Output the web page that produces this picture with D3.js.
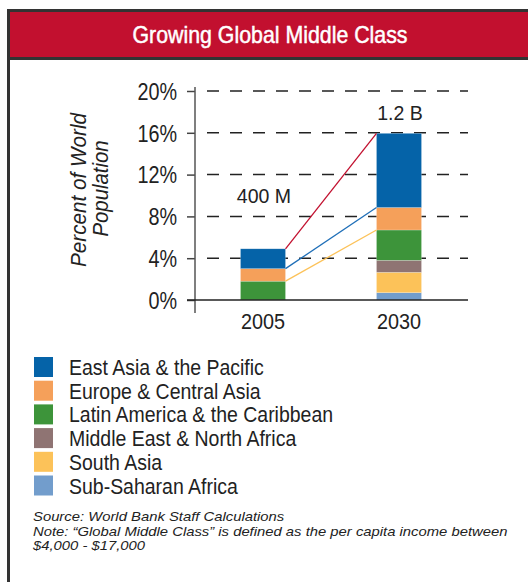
<!DOCTYPE html>
<html>
<head>
<meta charset="utf-8">
<script src="https://cdn.jsdelivr.net/npm/d3@7"></script>
<style>
  body { margin: 0; background: #fff; }
  text { font-family: "Liberation Sans", Arial, sans-serif; fill: #222; }
</style>
</head>
<body>
<script>
// chart data
const years = ["2005", "2030"];
const regions = ["Sub-Saharan Africa", "South Asia", "Middle East & North Africa",
  "Latin America & the Caribbean", "Europe & Central Asia", "East Asia & the Pacific"];
const colors = ["#729dcc", "#fcc259", "#8f7473", "#3d943a", "#f5a05a", "#0563a8"];
const values2005 = [0, 0, 0, 1.8, 1.2, 1.9];
const values2030 = [0.7, 1.95, 1.15, 2.9, 2.15, 7.1];
const yTicks = [0, 4, 8, 12, 16, 20];
const totals = ["400 M", "1.2 B"];
const legendOrder = regions.slice().reverse();

const W = 528, H = 582;
const svg = d3.select("body").append("svg")
  .attr("width", W)
  .attr("height", H);

// squeeze text horizontally, the original uses a condensed face
function condense(sel, f) {
  sel.each(function() {
    const w = this.getComputedTextLength();
    d3.select(this).attr("textLength", w * f).attr("lengthAdjust", "spacingAndGlyphs");
  });
}

// frame + title band
svg.append("line")
  .attr("x1", 8.5).attr("x2", 8.5).attr("y1", 9).attr("y2", H)
  .attr("stroke", "#333").attr("stroke-width", 3);
svg.append("rect")
  .attr("x", 7).attr("y", 9).attr("width", W - 7).attr("height", 51)
  .attr("fill", "#333");
svg.append("rect")
  .attr("x", 10).attr("y", 12).attr("width", W - 10).attr("height", 45)
  .attr("fill", "#c2102f");
svg.append("text")
  .attr("x", 270).attr("y", 43)
  .attr("text-anchor", "middle")
  .attr("textLength", 275).attr("lengthAdjust", "spacingAndGlyphs")
  .style("font-size", "24px")
  .style("fill", "#fff")
  .style("stroke", "#fff").style("stroke-width", 0.5)
  .text("Growing Global Middle Class");

// scales
const y = d3.scaleLinear().domain([0, 20]).range([300, 91]);
const x = d3.scaleBand().domain(years).range([195, 467])
  .paddingInner(0.669).paddingOuter(0.3345);

// gridlines
svg.append("g").selectAll("line")
  .data(yTicks.filter(d => d > 0))
  .enter().append("line")
  .attr("x1", 207).attr("x2", 468)
  .attr("y1", d => y(d)).attr("y2", d => y(d))
  .attr("stroke", "#222").attr("stroke-width", 1.5)
  .attr("stroke-dasharray", "12,11");

// y axis
const yAxis = d3.axisLeft(y).tickValues(yTicks).tickFormat(d => d + "%").tickSize(8).tickPadding(10);
const gy = svg.append("g").attr("transform", "translate(195,0)").call(yAxis);
gy.select(".domain").remove();
gy.selectAll(".tick line").attr("stroke", "#444").attr("stroke-width", 1.5);
gy.selectAll(".tick text").style("font-size", "23px").style("fill", "#222").attr("dy", "0.36em")
  .call(condense, 0.86);
svg.append("line")
  .attr("x1", 195).attr("x2", 195).attr("y1", 87).attr("y2", 313)
  .attr("stroke", "#555").attr("stroke-width", 1.5);

svg.append("text")
  .attr("transform", "translate(86,190) rotate(-90)")
  .attr("text-anchor", "middle")
  .style("font-size", "22px").style("font-style", "italic")
  .text("Percent of World")
  .call(condense, 0.94);
svg.append("text")
  .attr("transform", "translate(108,188.5) rotate(-90)")
  .attr("text-anchor", "middle")
  .style("font-size", "22px").style("font-style", "italic")
  .text("Population")
  .call(condense, 0.925);

// stacked bars
const table = years.map((yr, i) => {
  const row = { year: yr };
  regions.forEach((r, j) => { row[r] = (i === 0 ? values2005 : values2030)[j]; });
  return row;
});
const series = d3.stack().keys(regions)(table);

svg.append("g").selectAll("g")
  .data(series)
  .enter().append("g")
  .attr("fill", (d, i) => colors[i])
  .selectAll("rect")
  .data(d => d)
  .enter().append("rect")
  .attr("x", d => x(d.data.year))
  .attr("width", x.bandwidth())
  .attr("y", d => y(d[1]))
  .attr("height", d => y(d[0]) - y(d[1]))
  .attr("stroke", "#fff").attr("stroke-opacity", 0.35).attr("stroke-width", 0.6);

// x axis baseline
svg.append("line")
  .attr("x1", 187).attr("x2", 468).attr("y1", y(0)).attr("y2", y(0))
  .attr("stroke", "#222").attr("stroke-width", 1.5);
svg.selectAll(".xlab")
  .data(years)
  .enter().append("text")
  .attr("class", "xlab")
  .attr("x", d => x(d) + x.bandwidth() / 2)
  .attr("y", 329)
  .attr("text-anchor", "middle")
  .style("font-size", "22px")
  .text(d => d)
  .call(condense, 0.9);

// connector lines between the two bars
const links = [
  { key: 5, end: 1, color: "#c2102f" },
  { key: 5, end: 0, color: "#1f6fb8" },
  { key: 4, end: 0, color: "#fcc259" }
];
svg.append("g").selectAll("line")
  .data(links)
  .enter().append("line")
  .attr("x1", x("2005") + x.bandwidth())
  .attr("y1", d => y(series[d.key][0][d.end]))
  .attr("x2", x("2030"))
  .attr("y2", d => y(series[d.key][1][d.end]))
  .attr("stroke", d => d.color).attr("stroke-width", 1.3);

// totals
svg.selectAll(".tot")
  .data(years)
  .enter().append("text")
  .attr("class", "tot")
  .attr("x", d => x(d) + x.bandwidth() / 2 + 1)
  .attr("y", (d, i) => i === 0 ? 203 : 120)
  .attr("text-anchor", "middle")
  .style("font-size", "21px")
  .text((d, i) => totals[i])
  .call(condense, 0.93);

// legend
const leg = svg.append("g").selectAll("g")
  .data(legendOrder)
  .enter().append("g")
  .attr("transform", (d, i) => "translate(34," + (357 + i * 23.7) + ")");
leg.append("rect")
  .attr("width", 19).attr("height", 20)
  .attr("fill", d => colors[regions.indexOf(d)]);
leg.append("text")
  .attr("x", 35).attr("y", 18)
  .style("font-size", "22px")
  .text(d => d)
  .call(condense, 0.885);

// notes
const notes = [
  "Source:  World Bank Staff Calculations",
  "Note:  \u201cGlobal Middle Class\u201d is defined as the per capita income between",
  "$4,000 - $17,000"
];
svg.selectAll(".note")
  .data(notes)
  .enter().append("text")
  .attr("class", "note")
  .attr("x", 33)
  .attr("y", (d, i) => 521 + i * 14.7)
  .style("font-size", "13px").style("font-style", "italic")
  .text(d => d)
  .call(condense, 1.14);
</script>
</body>
</html>
